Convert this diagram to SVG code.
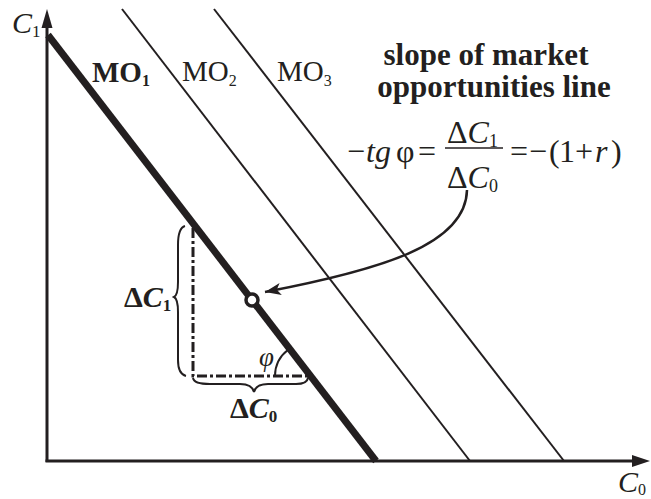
<svg xmlns="http://www.w3.org/2000/svg" width="651" height="499" viewBox="0 0 651 499">
<style>
.ln{stroke:#231f20;fill:none;stroke-linecap:butt}
.t{font-family:"Liberation Serif","Times New Roman",serif;fill:#231f20}
.b{font-weight:bold}
.i{font-style:italic}
.n{font-style:normal}
.dd{stroke:#231f20;stroke-width:3;fill:none;stroke-dasharray:10 3 3 3}
</style>
<defs>
<marker id="ah" markerWidth="18" markerHeight="12" refX="16" refY="6" orient="auto" markerUnits="userSpaceOnUse">
<path d="M0,0 L16,6 L0,12 L4,6 Z" fill="#231f20"/>
</marker>
</defs>
<rect width="651" height="499" fill="#fff"/>
<g id="connectors">
<line class="ln" x1="47" y1="462" x2="47" y2="24" stroke-width="3"/>
<polygon points="47,9 41.5,28 52.5,28" fill="#231f20"/>
<line class="ln" x1="45.5" y1="461" x2="636" y2="461" stroke-width="3"/>
<polygon points="650,461 632,455 632,467" fill="#231f20"/>
<line class="ln" x1="48" y1="35" x2="376" y2="461" stroke-width="7"/>
<line class="ln" x1="122" y1="9" x2="470" y2="461" stroke-width="2"/>
<line class="ln" x1="214" y1="9" x2="564" y2="461" stroke-width="2"/>
<polyline class="dd" points="193,228 193,376 308,376"/>
<path class="ln" d="M275,376 A33,33 0 0 1 287.8,350" stroke-width="2"/>
<path class="ln" d="M185,226 Q178,228 178,245 L178,282 Q178,295 174,297 Q178,299 178,312 L178,360 Q178,374 186,376" stroke-width="2"/>
<path class="ln" d="M193,378 Q194,384 210,384 L240,384 Q252,384 254,392 Q256,384 268,384 L296,384 Q307,384 308,378" stroke-width="2"/>
<path class="ln" d="M467,190 C466,245 380,270 265,292" stroke-width="2.5" marker-end="url(#ah)"/>
</g>
<g id="point">
<circle cx="252" cy="300" r="6" fill="#fff" stroke="#231f20" stroke-width="3.5"/>
</g>
<g id="labels">
<text class="t i" x="12" y="33" font-size="30">C<tspan class="n" font-size="17" dy="4">1</tspan></text>
<text class="t i" x="618" y="492" font-size="30">C<tspan class="n" font-size="16" dy="3">0</tspan></text>
<text class="t b" x="92" y="82" font-size="29">MO<tspan font-size="16" dy="4">1</tspan></text>
<text class="t" x="182" y="81" font-size="29">MO<tspan font-size="16" dy="5">2</tspan></text>
<text class="t" x="277" y="81" font-size="29">MO<tspan font-size="16" dy="5">3</tspan></text>
<text class="t b" x="486" y="65" font-size="31" text-anchor="middle">slope of market</text>
<text class="t b" x="494" y="97" font-size="31" text-anchor="middle">opportunities line</text>
<text class="t" y="162" font-size="32"><tspan x="347">−</tspan><tspan x="366" class="i">tg</tspan><tspan x="396">φ</tspan><tspan x="418">=</tspan></text>
<text class="t" x="447" y="143" font-size="32">Δ<tspan class="i">C</tspan><tspan font-size="18" dy="4">1</tspan></text>
<line class="ln" x1="445" y1="148" x2="503" y2="148" stroke-width="1.5"/>
<text class="t" x="447" y="188" font-size="32">Δ<tspan class="i">C</tspan><tspan font-size="18" dy="4">0</tspan></text>
<text class="t" y="162" font-size="32"><tspan x="510">=</tspan><tspan x="529">−</tspan><tspan x="549">(</tspan><tspan x="559">1</tspan><tspan x="575">+</tspan><tspan x="595" class="i">r</tspan><tspan x="611">)</tspan></text>
<text class="t b" x="124" y="307" font-size="30">Δ<tspan class="i">C</tspan><tspan font-size="17" dy="4">1</tspan></text>
<text class="t b" x="230" y="418" font-size="30">Δ<tspan class="i">C</tspan><tspan font-size="17" dy="4">0</tspan></text>
<text class="t i" x="259" y="366" font-size="27">φ</text>
</g>
</svg>
